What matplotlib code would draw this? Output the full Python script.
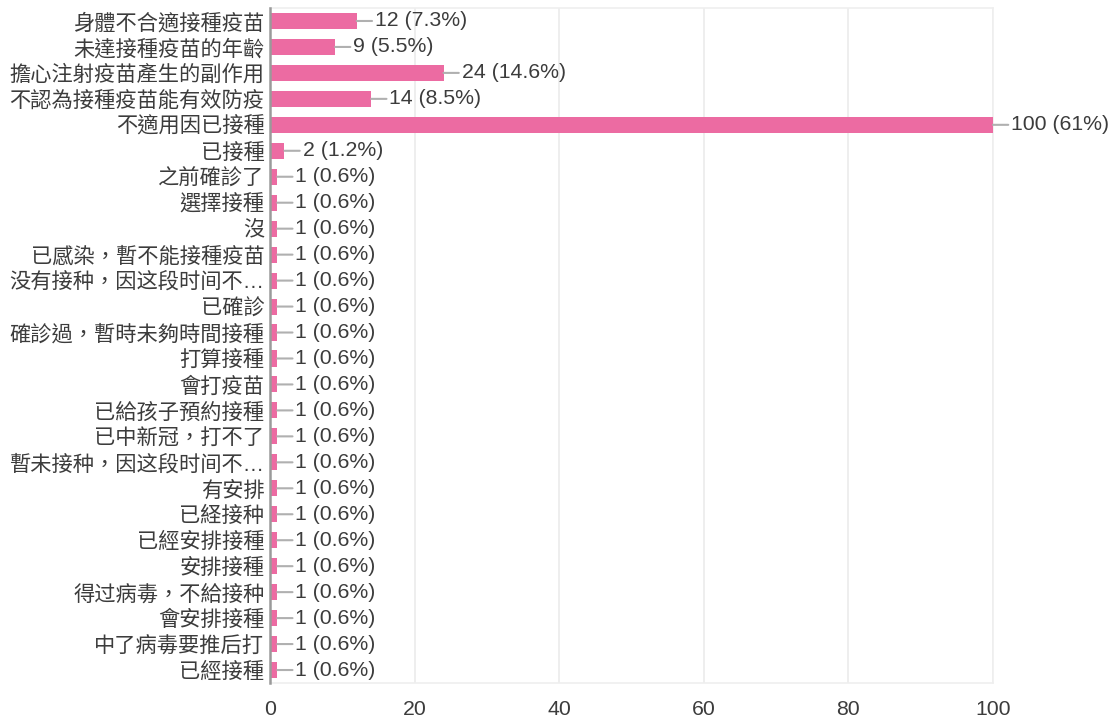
import matplotlib
matplotlib.use("Agg")
import matplotlib.pyplot as plt

# ── data ──────────────────────────────────────────────────────────────────────
categories = [
    "身體不合適接種疫苗",
    "未達接種疫苗的年齡",
    "擔心注射疫苗產生的副作用",
    "不認為接種疫苗能有效防疫",
    "不適用因已接種",
    "已接種",
    "之前確診了",
    "選擇接種",
    "沒",
    "已感染，暫不能接種疫苗",
    "没有接种，因这段时间不…",
    "已確診",
    "確診過，暫時未夠時間接種",
    "打算接種",
    "會打疫苗",
    "已給孩子預約接種",
    "已中新冠，打不了",
    "暫未接种，因这段时间不…",
    "有安排",
    "已経接种",
    "已經安排接種",
    "安排接種",
    "得过病毒，不給接种",
    "會安排接種",
    "中了病毒要推后打",
    "已經接種",
]
counts = [12, 9, 24, 14, 100, 2, 1, 1, 1, 1, 1, 1, 1, 1, 1, 1, 1, 1, 1, 1, 1, 1, 1, 1, 1, 1]
percents = ["7.3%", "5.5%", "14.6%", "8.5%", "61%", "1.2%"] + ["0.6%"] * 20
x_ticks = [0, 20, 40, 60, 80, 100]

BAR_COLOR = "#EC6BA2"
TEXT_COLOR = "#3c3c3c"
# Liberation first so "…" sits on the baseline; CJK glyphs fall through to Noto
CJK = ["Liberation Sans", "Noto Sans CJK TC", "DejaVu Sans"]
LATIN = ["Liberation Sans", "DejaVu Sans"]

fig = plt.figure(figsize=(11.11, 7.22), dpi=100)
ax = fig.add_axes([270 / 1111, 1 - 683 / 722, (993 - 270) / 1111, (683 - 8) / 722])

y = list(range(len(categories)))
ax.barh(y, counts, height=0.62, color=BAR_COLOR, zorder=3)

for i, (c, p) in enumerate(zip(counts, percents)):
    ax.annotate(f"{c} ({p})", xy=(c, i), xytext=(13, 0), textcoords="offset points",
                ha="left", va="center", fontsize=15.3, family=LATIN, color=TEXT_COLOR,
                annotation_clip=False,
                arrowprops=dict(arrowstyle="-", color="#b0b0b0", lw=1.5,
                                shrinkA=0, shrinkB=0))

ax.set_ylim(len(categories) - 0.5, -0.5)
ax.set_xlim(0, 100)
ax.set_yticks(y)
ax.set_yticklabels(categories, family=CJK, fontsize=15.3, color=TEXT_COLOR)
ax.set_xticks(x_ticks)
ax.set_xticklabels([str(t) for t in x_ticks], family=LATIN, fontsize=15.3, color=TEXT_COLOR)
ax.tick_params(axis="both", length=0)
ax.tick_params(axis="x", pad=12)
ax.tick_params(axis="y", pad=4)

ax.grid(axis="x", color="#ebebeb", linewidth=1.2, zorder=0)
for side in ["top", "bottom", "right"]:
    ax.spines[side].set_color("#efefef")
    ax.spines[side].set_linewidth(1.2)
ax.spines["left"].set_color("#9a9a9a")
ax.spines["left"].set_linewidth(1.8)
ax.spines["left"].set_zorder(4)

fig.savefig("out.png", dpi=100)
